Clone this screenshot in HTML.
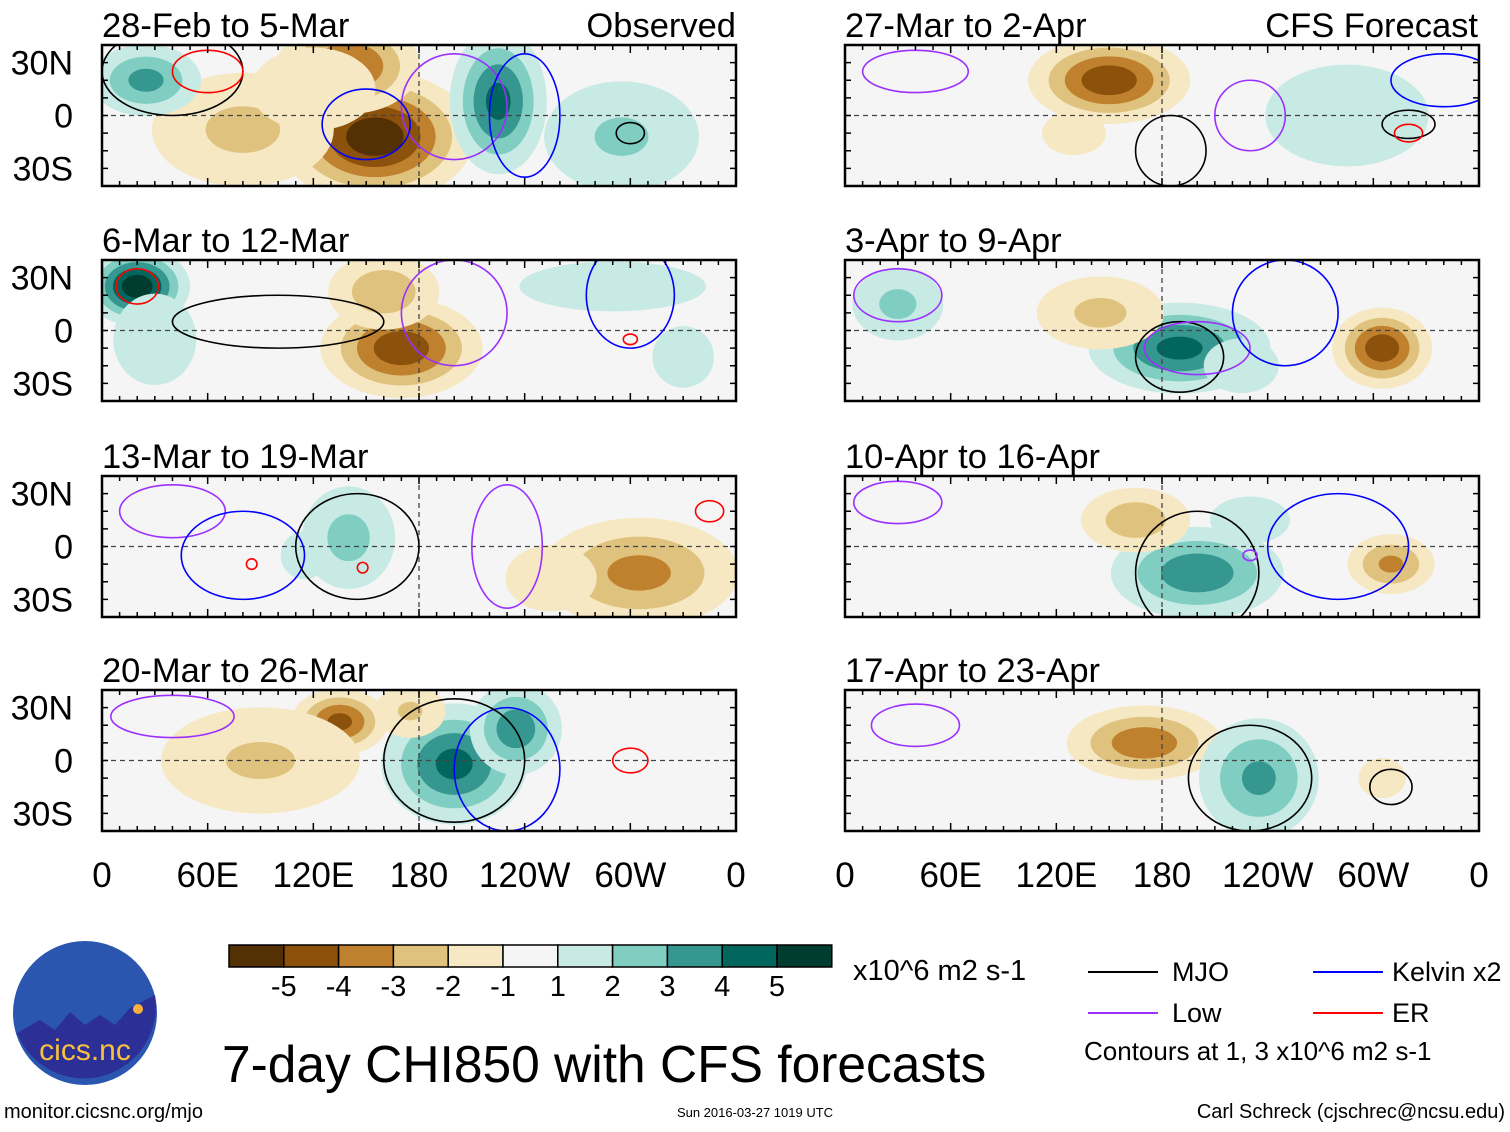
<!DOCTYPE html>
<html><head><meta charset="utf-8"><style>
body{margin:0;background:#fff;width:1510px;height:1127px;overflow:hidden;font-family:"Liberation Sans",sans-serif}
svg text{font-family:"Liberation Sans",sans-serif}
</style></head><body>
<svg id="chart" width="1510" height="1127" viewBox="0 0 1510 1127" xmlns="http://www.w3.org/2000/svg"></svg>
<script>
const panelTitles=["28-Feb to 5-Mar","6-Mar to 12-Mar","13-Mar to 19-Mar","20-Mar to 26-Mar","27-Mar to 2-Apr","3-Apr to 9-Apr","10-Apr to 16-Apr","17-Apr to 23-Apr"];
const levels=[1,2,3,4,5];
const lonTicks=["0","60E","120E","180","120W","60W","0"];
const latTicks=["30N","0","30S"];
const cbLabels=["-5","-4","-3","-2","-1","1","2","3","4","5"];
const negColors=["#f6e8c3","#dfc27d","#bf812d","#8c510a","#543005"];
const posColors=["#c7eae5","#80cdc1","#35978f","#01665e","#003c30"];
// blobs per panel: [lon, lat, amplitude, widthLon, widthLat]
const blobs0=[[155,-12,-5.8,30,20],[140,28,-4.2,24,16],[80,-8,-2.3,40,25],[225,8,4.4,16,24],[295,-12,2.2,35,25],[25,20,3.4,20,13],[120,15,-2,30,20]];
const blobs1=[[20,25,5.8,16,12],[30,-5,2,20,22],[170,-10,-4.8,26,16],[160,22,-2.8,22,15],[290,25,2,45,12],[330,-15,1.6,18,18]];
const blobs2=[[305,-15,-3.4,36,20],[140,5,2.4,20,22],[255,-18,-2,22,16],[115,-5,1.6,14,14]];
const blobs3=[[200,-2,4.4,24,20],[235,18,3.8,16,16],[135,22,-4.4,16,11],[90,0,-2.2,45,24],[175,28,-2.2,16,12]];
const blobs4=[[150,20,-4.8,26,14],[285,0,1.7,45,28],[130,-10,-1.9,16,11]];
const blobs5=[[190,-10,4.4,30,15],[145,10,-2.3,28,16],[305,-10,-4.8,16,13],[30,15,2.3,20,16],[225,-20,1.6,22,16]];
const blobs6=[[200,-15,3.8,30,16],[310,-10,-3.3,16,11],[165,15,-2.7,22,13],[230,15,1.7,22,13]];
const blobs7=[[170,10,-3.8,27,13],[235,-10,3.3,22,22],[305,-10,-1.7,13,11]];
const allBlobs=[blobs0,blobs1,blobs2,blobs3,blobs4,blobs5,blobs6,blobs7];
// contours: [colorIndex, lon, lat, rLon, rLat]
const contourColors=["#000","#9b30ff","#0000ff","#ff0000"];
const cont0=[[0,40,25,40,25],[1,200,5,30,30],[2,150,-5,25,20],[3,60,25,20,12],[2,240,0,20,35],[0,300,-10,8,6]];
const cont1=[[3,20,25,12,10],[0,100,5,60,15],[1,200,10,30,30],[2,300,20,25,30],[3,300,-5,4,3]];
const cont2=[[1,40,20,30,15],[2,80,-5,35,25],[0,145,0,35,30],[1,230,0,20,35],[3,345,20,8,6],[3,148,-12,3,3],[3,85,-10,3,3]];
const cont3=[[1,40,25,35,12],[2,230,-5,30,35],[0,200,0,40,35],[3,300,0,10,7]];
const cont4=[[1,40,25,30,12],[2,340,20,30,15],[0,185,-20,20,20],[1,230,0,20,20],[0,320,-5,15,8],[3,320,-10,8,5]];
const cont5=[[1,30,20,25,15],[0,190,-15,25,20],[1,200,-10,30,15],[2,250,10,30,30]];
const cont6=[[1,30,25,25,12],[0,200,-15,35,35],[2,280,0,40,30],[1,230,-5,4,3]];
const cont7=[[1,40,20,25,12],[0,230,-10,35,30],[0,310,-15,12,10]];
const allConts=[cont0,cont1,cont2,cont3,cont4,cont5,cont6,cont7];

const NS="http://www.w3.org/2000/svg";
const svg=document.getElementById('chart');
function mk(tag,attrs,parent){const e=document.createElementNS(NS,tag);for(const k in attrs)e.setAttribute(k,attrs[k]);(parent||svg).appendChild(e);return e;}
const colX=[102,845], W=634, rowY=[45,260,476,690], H=141;
let defs=mk('defs',{});
for(let p=0;p<8;p++){
  const col=p<4?0:1,row=p%4;
  const x0=colX[col],y0=rowY[row];
  const lonX=l=>x0+l/360*W;
  const latY=l=>y0+(40-l)/80*H;
  const g=mk('g',{});
  
  
  const cp=mk('clipPath',{id:'cp'+p},defs);
  mk('rect',{x:x0,y:y0,width:W,height:H},cp);
  mk('rect',{x:x0,y:y0,width:W,height:H,fill:'#f5f5f5'},g);
  const cg=mk('g',{'clip-path':'url(#cp'+p+')'},g);
  allBlobs[p].forEach(b=>{
    const [lon,lat,A,wx,wy]=b;const amp=Math.abs(A);
    levels.forEach((L,i)=>{
      if(L>=amp)return;
      const f=Math.sqrt(2*Math.log(amp/L));
      const e=mk('ellipse',{cx:lonX(lon),cy:latY(lat),rx:wx*f/360*W,ry:wy*f/80*H,fill:(A<0?negColors:posColors)[i]},cg);
      
      
    });
  });
  mk('line',{x1:x0,x2:x0+W,y1:latY(0),y2:latY(0),stroke:'#444','stroke-dasharray':'5,4','stroke-width':1.3},cg);
  mk('line',{x1:lonX(180),x2:lonX(180),y1:y0,y2:y0+H,stroke:'#444','stroke-dasharray':'5,4','stroke-width':1.3},cg);
  allConts[p].forEach(c=>{
    const e=mk('ellipse',{cx:lonX(c[1]),cy:latY(c[2]),rx:c[3]/360*W,ry:c[4]/80*H,fill:'none',stroke:contourColors[c[0]],'stroke-width':1.6},cg);
    
    
  });
  mk('rect',{x:x0,y:y0,width:W,height:H,fill:'none',stroke:'#000','stroke-width':2.5},g);
  for(let l=0;l<=360;l+=10){const tl=(l%60==0)?8:5;
    mk('line',{x1:lonX(l),x2:lonX(l),y1:y0,y2:y0+tl,stroke:'#000','stroke-width':1.5},g);
    mk('line',{x1:lonX(l),x2:lonX(l),y1:y0+H,y2:y0+H-tl,stroke:'#000','stroke-width':1.5},g);}
  for(let l=-30;l<=30;l+=10){mk('line',{x1:x0,x2:x0+6,y1:latY(l),y2:latY(l),stroke:'#000','stroke-width':1.5},g);
    mk('line',{x1:x0+W,x2:x0+W-6,y1:latY(l),y2:latY(l),stroke:'#000','stroke-width':1.5},g);}
  const t=mk('text',{x:x0,y:y0-8,'font-size':34.5},g);t.textContent=panelTitles[p];
  
  if(col==0){[30,0,-30].forEach((l,i)=>{const tt=mk('text',{x:73,y:latY(l)+12,'font-size':34,'text-anchor':'end'},g);tt.textContent=latTicks[i];
    });}
  if(row==3){lonTicks.forEach((s,i)=>{const tt=mk('text',{x:lonX(i*60),y:887,'font-size':35,'text-anchor':'middle'},g);tt.textContent=s;
    });}
}
let t=mk('text',{x:736,y:37,'font-size':34.5,'text-anchor':'end'});t.textContent='Observed';

t=mk('text',{x:1478,y:37,'font-size':34.5,'text-anchor':'end'});t.textContent='CFS Forecast';

// colorbar
const cb=mk('g',{});
const cbCols=[...negColors].reverse().concat(["#f5f5f5"]).concat(posColors);
cbCols.forEach((c,i)=>mk('rect',{x:229+i*54.8,y:945,width:54.8,height:22,fill:c,stroke:'#000','stroke-width':1.5},cb));
cbLabels.forEach((s,i)=>{const tt=mk('text',{x:229+(i+1)*54.8,y:996,'font-size':29,'text-anchor':'middle'},cb);tt.textContent=s;});
t=mk('text',{x:853,y:980,'font-size':29});t.textContent='x10^6 m2 s-1';

// legend
const leg=[["MJO","#000",1088,1172,972],["Low","#9b30ff",1088,1172,1013],["Kelvin x2","#0000ff",1313,1392,972],["ER","#ff0000",1313,1392,1013]];
leg.forEach(l=>{const g=mk('g',{});
  mk('line',{x1:l[2],x2:l[2]+70,y1:l[4],y2:l[4],stroke:l[1],'stroke-width':2},g);
  const tt=mk('text',{x:l[3],y:l[4]+9,'font-size':27},g);tt.textContent=l[0];});
t=mk('text',{x:1084,y:1060,'font-size':26});t.textContent='Contours at 1, 3 x10^6 m2 s-1';

t=mk('text',{x:222,y:1082,'font-size':51.5});t.textContent='7-day CHI850 with CFS forecasts';

t=mk('text',{x:4,y:1118,'font-size':20});t.textContent='monitor.cicsnc.org/mjo';

t=mk('text',{x:755,y:1117,'font-size':13,'text-anchor':'middle'});t.textContent='Sun 2016-03-27 1019 UTC';

t=mk('text',{x:1505,y:1118,'font-size':20,'text-anchor':'end'});t.textContent='Carl Schreck (cjschrec@ncsu.edu)';

// logo
const lg=mk('g',{});
mk('circle',{cx:85,cy:1013,r:72,fill:'#2a56b0'},lg);
mk('path',{d:'M17,1033 L40,1020 L55,1030 L70,1012 L85,1025 L100,1015 L115,1025 L130,1008 L155,995 A72,72 0 0 1 17,1033 Z',fill:'#2c2f95'},lg);
mk('circle',{cx:138,cy:1009,r:5,fill:'#f8b040'},lg);
t=mk('text',{x:85,y:1060,'font-size':30,fill:'#f8c040','text-anchor':'middle'},lg);t.textContent='cics.nc';
</script>
</body></html>
